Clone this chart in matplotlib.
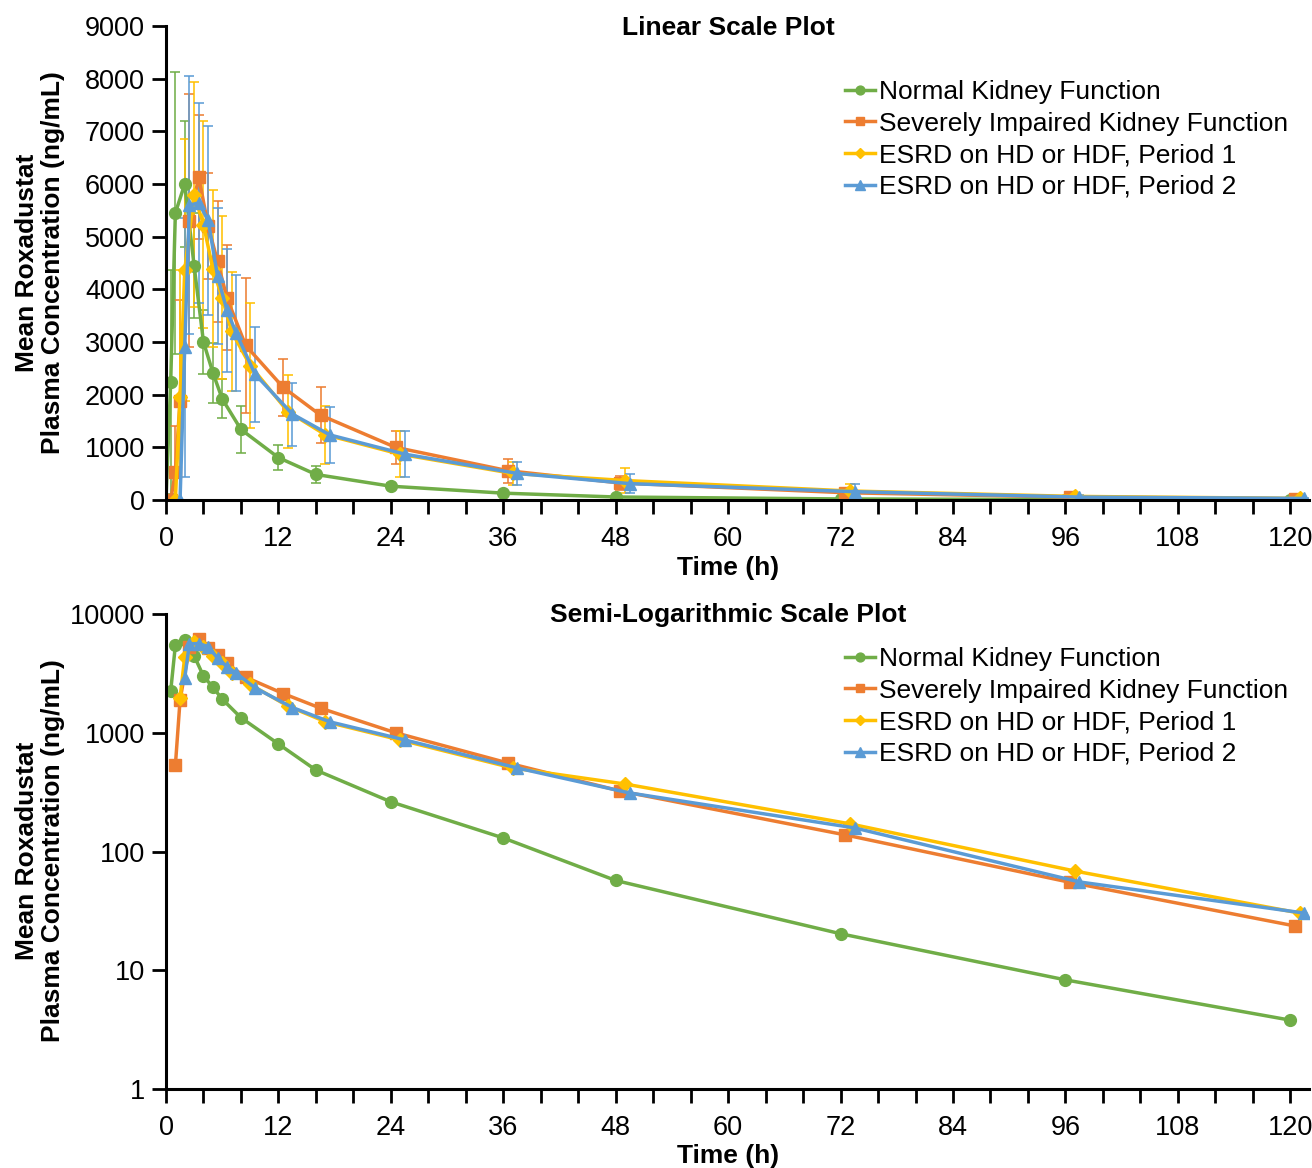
import matplotlib.pyplot as plt
import numpy as np

plt.rcParams['font.family'] = ['Liberation Sans', 'DejaVu Sans']

# nominal sampling times (h)
times = [0, 0.5, 1, 2, 3, 4, 5, 6, 8, 12, 16, 24, 36, 48, 72, 96, 120]

labels = ['Normal Kidney Function',
          'Severely Impaired Kidney Function',
          'ESRD on HD or HDF, Period 1',
          'ESRD on HD or HDF, Period 2']

# mean roxadustat concentration (ng/mL)
normal_mean = [0, 2240, 5450, 6000, 4450, 3000, 2420, 1920, 1340, 805, 485,
               262, 130, 57, 20.3, 8.3, 3.8]
severe_mean = [0, 530, 1880, 5300, 6130, 5200, 4530, 3840, 2935, 2140, 1610,
               1000, 556, 323, 138, 55, 23.6]
esrd_p1_mean = [0, 1955, 4370, 5800, 5230, 4390, 3840, 3200, 2550, 1680, 1240,
                869, 505, 370, 171, 68.5, 30.3]
esrd_p2_mean = [0, 2900, 5600, 5640, 5310, 4250, 3605, 3165, 2390, 1630, 1235,
                870, 505, 311, 158, 55.4, 30.3]

# standard deviations
normal_sd = [0, 2120, 2680, 1190, 1000, 600, 570, 370, 440, 240, 158,
             60, 40, 20, 8, 4, 2]
severe_sd = [0, 880, 1915, 2400, 1180, 1000, 1150, 1000, 1280, 540, 530,
             310, 230, 138, 60, 30, 12]
esrd_p1_sd = [0, 2410, 2485, 2140, 1970, 1490, 1550, 1130, 1190, 700, 550,
              440, 220, 243, 127, 40, 15]
esrd_p2_sd = [0, 2460, 2450, 1890, 1790, 1285, 1170, 1100, 900, 600, 530,
              440, 222, 182, 140, 40, 15]

means = [normal_mean, severe_mean, esrd_p1_mean, esrd_p2_mean]
sds = [normal_sd, severe_sd, esrd_p1_sd, esrd_p2_sd]

# small horizontal shift per group so the error bars don't sit on top of each other
shifts = [0, 0.5, 1.0, 1.5]
colors = ['#70AD47', '#ED7D31', '#FFC000', '#5B9BD5']
markers = ['o', 's', 'D', '^']
msizes = [8.5, 8, 7, 9]

W, H = 1312, 1168
fig = plt.figure(figsize=(W / 100, H / 100), dpi=100)

x_left, x_right = 166, 1309
ax1 = fig.add_axes([x_left / W, 1 - 500 / H, (x_right - x_left) / W, 474 / H])
ax2 = fig.add_axes([x_left / W, 1 - 1089 / H, (x_right - x_left) / W, 475 / H])

FS = 19


def style_axis(ax):
    for s in ['top', 'right']:
        ax.spines[s].set_visible(False)
    for s in ['left', 'bottom']:
        ax.spines[s].set_linewidth(2.2)
    ax.set_xlim(0, 122)
    ax.set_xticks(np.arange(0, 121, 4))
    ax.set_xticklabels([str(t) if t % 12 == 0 else '' for t in range(0, 121, 4)])
    ax.tick_params(direction='out', length=10, width=2, labelsize=FS + 0.5)
    ax.tick_params(axis='x', pad=8.5)
    ax.tick_params(axis='y', pad=5)
    ax.tick_params(axis='y', which='minor', length=0)
    ax.set_xlabel('Time (h)', fontsize=FS, fontweight='bold')


# linear plot with SD error bars
for m, sd, sh, c in zip(means, sds, shifts, colors):
    t = np.array(times) + sh
    ax1.errorbar(t, m, yerr=sd, fmt='none', ecolor=c, elinewidth=1.4,
                 capsize=3.5, capthick=1.4, alpha=0.8)
for m, sh, c, mk, ms, lab in zip(means, shifts, colors, markers, msizes, labels):
    t = np.array(times) + sh
    ax1.plot(t, m, color=c, marker=mk, markersize=ms, lw=2.5, label=lab)

style_axis(ax1)
ax1.set_ylim(0, 9000)
ax1.set_yticks(np.arange(0, 9001, 1000))
ax1.xaxis.set_label_coords((728 - x_left) / (x_right - x_left), -0.118)

# semi-log plot, zero (pre-dose) values left out
for m, sh, c, mk, ms, lab in zip(means, shifts, colors, markers, msizes, labels):
    t = np.array(times) + sh
    v = np.array(m, dtype=float)
    v[v <= 0] = np.nan
    ax2.plot(t, v, color=c, marker=mk, markersize=ms, lw=2.5, label=lab)

style_axis(ax2)
ax2.set_yscale('log')
ax2.set_ylim(1, 10000)
ax2.set_yticks([1, 10, 100, 1000, 10000])
ax2.set_yticklabels(['1', '10', '100', '1000', '10000'])
ax2.tick_params(axis='y', which='minor', length=0)
ax2.xaxis.set_label_coords((728 - x_left) / (x_right - x_left), -0.115)

for ax, top in [(ax1, 80), (ax2, 647)]:
    ax.legend(loc='upper left', bbox_to_anchor=(845 / W, 1 - top / H),
              bbox_transform=fig.transFigure, frameon=False, fontsize=FS,
              borderaxespad=0, borderpad=0, handlelength=1.15,
              handletextpad=0.15, labelspacing=0.29, markerscale=0.75,
              numpoints=1)

fig.text(728 / W, 1 - 28 / H, 'Linear Scale Plot', ha='center', va='center',
         fontsize=FS, fontweight='bold')
fig.text(728 / W, 1 - 615 / H, 'Semi-Logarithmic Scale Plot', ha='center',
         va='center', fontsize=FS, fontweight='bold')

ylab = 'Mean Roxadustat\nPlasma Concentration (ng/mL)'
fig.text(40 / W, 1 - 263 / H, ylab, rotation=90, ha='center', va='center',
         multialignment='center', fontsize=FS, fontweight='bold', linespacing=1.15)
fig.text(40 / W, 1 - 851 / H, ylab, rotation=90, ha='center', va='center',
         multialignment='center', fontsize=FS, fontweight='bold', linespacing=1.15)

fig.savefig('out.png', dpi=100)
